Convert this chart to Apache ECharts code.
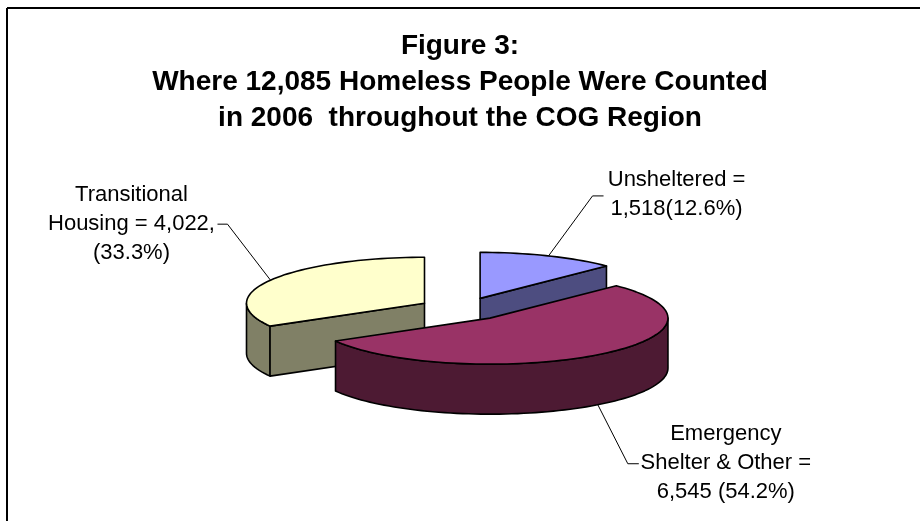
<!DOCTYPE html>
<html>
<head>
<meta charset="utf-8">
<script src="https://cdn.jsdelivr.net/npm/echarts@6/dist/echarts.min.js"></script>
<style>
  html, body { margin: 0; padding: 0; background: #fff; }
  #chart { width: 920px; height: 521px; }
</style>
</head>
<body>
<div id="chart"></div>
<script>
// Homeless count by shelter type, drawn clockwise from 12 o'clock
const categories = ['Unsheltered', 'Emergency Shelter & Other', 'Transitional Housing'];
const counts = [1518, 6545, 4022];
const labelTemplates = [
  'Unsheltered =\n{v}({p}%)',
  'Emergency\nShelter & Other =\n{v} ({p}%)',
  'Transitional\nHousing = {v},\n({p}%)'
];
const titleLines = [
  'Figure 3:',
  'Where 12,085 Homeless People Were Counted',
  'in 2006  throughout the COG Region'
];

const topColors  = ['#9999FF', '#993366', '#FFFFCC'];
const sideColors = ['#4D4D80', '#4D1A33', '#808066'];

// leader elbow / label centre, as pixel offsets from the slice anchor
const labelLayout = [
  { elbow: [44, -60], tail: [55, -60], text: [128, -61] },
  { elbow: [30, 59],  tail: [41, 59],  text: [128, 58] },
  { elbow: [-43, -56], tail: [-53, -56], text: [-139, -56] }
];

const total = counts.reduce((a, b) => a + b, 0);
const starts = [];
counts.reduce((acc, c) => { starts.push(acc); return acc + c; }, 0);

const TILT = 46 / 178;   // vertical squash of the disc
const DEPTH = 50;        // thickness of the disc in px
const EXPLODE = 0.25;    // slice pull-out, fraction of radius
const FONT = 'Arial, "Liberation Sans", sans-serif';

function fmt(v) { return v.toLocaleString('en-US'); }

function renderItem(params, api) {
  const i = params.dataIndex;
  const s = api.value(1), e = api.value(2), v = api.value(3);
  const c = api.coord([0, 0]);
  const mid = (s + e) / 2;
  const m = api.coord([EXPLODE, mid]);
  const ox = m[0] - c[0], oy = m[1] - c[1];
  const P = (r, val, dz) => {
    const p = api.coord([r, val]);
    return [p[0] + ox, c[1] + (p[1] + oy - c[1]) * TILT + (dz || 0)];
  };
  const rad = val => val / total * Math.PI * 2;
  const arc = (a, b, dz) => {
    const n = Math.max(2, Math.ceil((b - a) / total * 180));
    const pts = [];
    for (let k = 0; k <= n; k++) pts.push(P(1, a + (b - a) * k / n, dz));
    return pts;
  };
  const front = -Math.cos(rad(mid));
  const base = Math.round((front + 1) * 10) * 10;
  const edge = { stroke: '#000', lineWidth: 1.6, lineJoin: 'round' };
  const children = [];

  // outer wall (front half only)
  const a = Math.max(s, total * 0.25), b = Math.min(e, total * 0.75);
  if (a < b) {
    children.push({
      type: 'polygon', z2: base + 1,
      shape: { points: arc(a, b, 0).concat(arc(a, b, DEPTH).reverse()) },
      style: Object.assign({ fill: sideColors[i] }, edge)
    });
  }
  // cut faces facing the viewer
  if (Math.sin(rad(s)) < -1e-6) {
    children.push({
      type: 'polygon', z2: base + 1,
      shape: { points: [P(0, s), P(1, s), P(1, s, DEPTH), P(0, s, DEPTH)] },
      style: Object.assign({ fill: sideColors[i] }, edge)
    });
  }
  if (Math.sin(rad(e)) > 1e-6) {
    children.push({
      type: 'polygon', z2: base + 1,
      shape: { points: [P(0, e), P(1, e), P(1, e, DEPTH), P(0, e, DEPTH)] },
      style: Object.assign({ fill: sideColors[i] }, edge)
    });
  }
  // top face
  children.push({
    type: 'polygon', z2: base + 2,
    shape: { points: [P(0, s)].concat(arc(s, e, 0)) },
    style: Object.assign({ fill: topColors[i] }, edge)
  });

  // leader line and label
  const anchor = front > 0 ? P(1, mid, DEPTH) : P(1, mid, 0);
  const L = labelLayout[i];
  children.push({
    type: 'polyline', z2: 200,
    shape: { points: [anchor,
      [anchor[0] + L.elbow[0], anchor[1] + L.elbow[1]],
      [anchor[0] + L.tail[0], anchor[1] + L.tail[1]]] },
    style: { stroke: '#000', lineWidth: 1, fill: null }
  });
  const pct = (v / total * 100).toFixed(1);
  children.push({
    type: 'text', z2: 200,
    x: anchor[0] + L.text[0], y: anchor[1] + L.text[1],
    style: {
      text: labelTemplates[i].replace('{v}', fmt(v)).replace('{p}', pct),
      fill: '#000', fontSize: 22, fontFamily: FONT,
      align: 'center', verticalAlign: 'middle', lineHeight: 29
    }
  });
  return { type: 'group', children };
}

const chart = echarts.init(document.getElementById('chart'), null, { renderer: 'canvas' });
chart.setOption({
  backgroundColor: '#fff',
  animation: false,
  title: {
    text: titleLines.join('\n'),
    left: 460, top: 28, padding: 0,
    textAlign: 'center',
    textStyle: { fontSize: 28, fontWeight: 'bold', fontFamily: FONT, lineHeight: 36, color: '#000' }
  },
  polar: { center: [463, 309], radius: 178 },
  angleAxis: { type: 'value', min: 0, max: total, startAngle: 90, clockwise: true, show: false },
  radiusAxis: { type: 'value', min: 0, max: 1, show: false },
  graphic: [
    { type: 'line', shape: { x1: 7, y1: 8, x2: 920, y2: 8 }, style: { stroke: '#000', lineWidth: 2 } },
    { type: 'line', shape: { x1: 7, y1: 8, x2: 7, y2: 521 }, style: { stroke: '#000', lineWidth: 2 } }
  ],
  series: [{
    type: 'custom',
    coordinateSystem: 'polar',
    clip: false,
    silent: true,
    dimensions: ['r', 'start', 'end', 'count'],
    encode: { radius: 0, angle: 1 },
    renderItem: renderItem,
    data: counts.map((v, i) => ({ name: categories[i], value: [1, starts[i], starts[i] + v, v] }))
  }]
});
</script>
</body>
</html>
